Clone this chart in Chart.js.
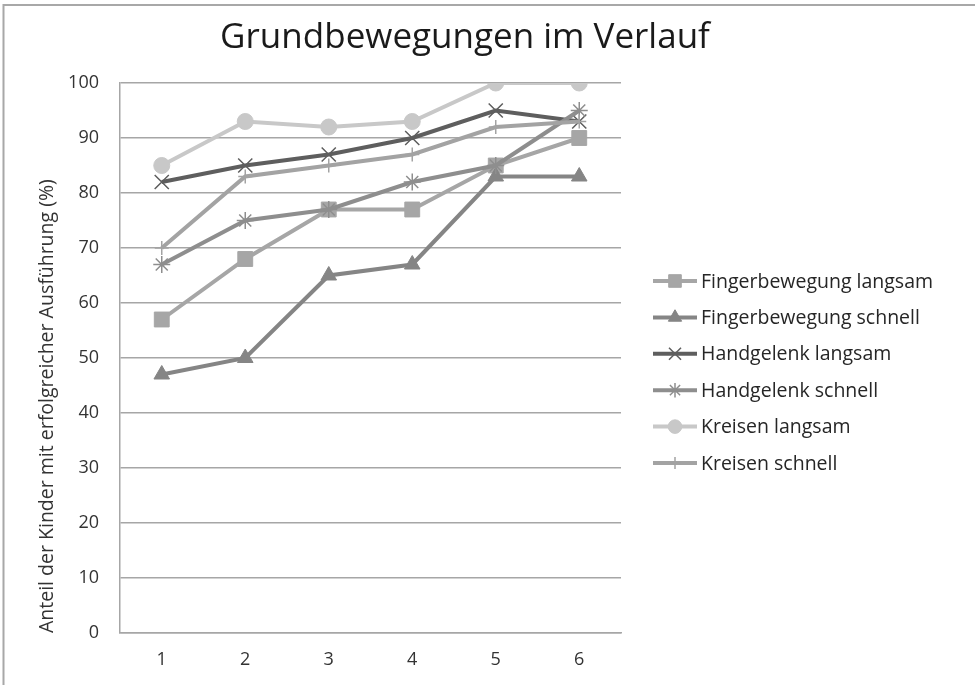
<!DOCTYPE html>
<html>
<head>
<meta charset="utf-8">
<script src="https://cdn.jsdelivr.net/npm/chart.js@4"></script>
<style>
  html, body { margin: 0; padding: 0; background: #fff; }
  #wrap { width: 975px; height: 685px; }
</style>
</head>
<body>
<div id="wrap"><canvas id="chart" width="975" height="685"></canvas></div>
<script>
// Messzeitpunkte
const labels = ["1", "2", "3", "4", "5", "6"];

// Anteil der Kinder (%) je Bewegung
const fingerLangsam = [57, 68, 77, 77, 85, 90];
const fingerSchnell = [47, 50, 65, 67, 83, 83];
const handLangsam = [82, 85, 87, 90, 95, 93];
const handSchnell = [67, 75, 77, 82, 85, 95];
const kreisLangsam = [85, 93, 92, 93, 100, 100];
const kreisSchnell = [70, 83, 85, 87, 92, 93];

const seriesNames = ["Fingerbewegung langsam", "Fingerbewegung schnell", "Handgelenk langsam",
  "Handgelenk schnell", "Kreisen langsam", "Kreisen schnell"];

const FONT = "'Open Sans', sans-serif";

function makeSet(i, data, color, style, radius, bw) {
  return {
    label: seriesNames[i],
    data: data,
    borderColor: color,
    backgroundColor: color,
    borderWidth: 4,
    pointStyle: style,
    pointRadius: radius,
    pointHoverRadius: radius,
    pointBorderWidth: bw,
    pointBorderColor: color,
    pointBackgroundColor: color,
    tension: 0,
    order: 6 - i
  };
}

const datasets = [
  makeSet(0, fingerLangsam, '#a6a6a6', 'rect', 10.5, 1),
  makeSet(1, fingerSchnell, '#858585', 'triangle', 9, 1),
  makeSet(2, handLangsam, '#5e5e5e', 'crossRot', 10, 1.5),
  makeSet(3, handSchnell, '#8e8e8e', 'star', 8.5, 1.5),
  makeSet(4, kreisLangsam, '#c8c8c8', 'circle', 8, 1),
  makeSet(5, kreisSchnell, '#a3a3a3', 'cross', 7, 1.5)
];

// Rahmen oben und links
const framePlugin = {
  id: 'frame',
  beforeDraw(chart) {
    const ctx = chart.ctx;
    ctx.save();
    ctx.fillStyle = '#fff';
    ctx.fillRect(0, 0, chart.width, chart.height);
    ctx.strokeStyle = '#a8a8a8';
    ctx.lineWidth = 2;
    ctx.beginPath();
    ctx.moveTo(3.5, chart.height);
    ctx.lineTo(3.5, 5);
    ctx.lineTo(chart.width, 5);
    ctx.stroke();
    ctx.restore();
  }
};

// Legende rechts, Linie mit Marker
const legendPlugin = {
  id: 'sideLegend',
  afterDraw(chart) {
    const ctx = chart.ctx;
    ctx.save();
    chart.data.datasets.forEach((ds, i) => {
      const y = 281 + i * 36.4;
      ctx.strokeStyle = ds.borderColor;
      ctx.lineWidth = 4;
      ctx.beginPath();
      ctx.moveTo(653, y);
      ctx.lineTo(697, y);
      ctx.stroke();
      ctx.fillStyle = ds.backgroundColor;
      ctx.strokeStyle = ds.borderColor;
      ctx.lineWidth = ds.pointBorderWidth;
      Chart.helpers.drawPoint(ctx, { pointStyle: ds.pointStyle, radius: ds.pointRadius * 0.85, rotation: 0, borderWidth: ds.pointBorderWidth }, 675, y);
      ctx.fillStyle = '#262626';
      ctx.font = '19.5px ' + FONT;
      ctx.textBaseline = 'middle';
      ctx.textAlign = 'left';
      ctx.fillText(ds.label, 701, y + 1);
    });
    ctx.restore();
  }
};

new Chart(document.getElementById('chart').getContext('2d'), {
  type: 'line',
  data: { labels: labels, datasets: datasets },
  options: {
    responsive: false,
    animation: false,
    layout: { padding: { left: 0, right: 45, top: 0, bottom: 0 } },
    plugins: {
      legend: { display: false },
      tooltip: { enabled: false },
      title: {
        display: true,
        text: 'Grundbewegungen im Verlauf',
        color: '#1a1a1a',
        font: { family: FONT, size: 35, weight: 'normal' },
        padding: { top: 17, bottom: 24 }
      }
    },
    scales: {
      x: {
        offset: true,
        grid: { display: false, drawTicks: false },
        border: { display: true, color: '#a6a6a6', width: 1.5 },
        ticks: { color: '#333', padding: 16, font: { family: FONT, size: 18 } },
        afterFit(scale) { scale.height = 52; }
      },
      y: {
        min: 0,
        max: 100,
        ticks: { stepSize: 10, color: '#333', padding: 21, font: { family: FONT, size: 18 } },
        grid: { color: '#a6a6a6', lineWidth: 1.5, drawTicks: false },
        border: { display: true, color: '#a6a6a6', width: 1.5 },
        title: {
          display: true,
          align: 'start',
          text: 'Anteil der Kinder mit erfolgreicher Ausführung (%)',
          color: '#333',
          font: { family: FONT, size: 19.5 },
          padding: { top: 36, bottom: 0 }
        },
        afterFit(scale) { scale.width = 120; }
      },
      // freier Platz rechts für die Legende
      legendSpace: {
        axis: 'y',
        type: 'linear',
        position: 'right',
        min: 0,
        max: 100,
        grid: { display: false, drawTicks: false },
        border: { display: false },
        ticks: { display: false },
        afterFit(scale) { scale.width = 309; }
      }
    }
  },
  plugins: [framePlugin, legendPlugin]
});
</script>
</body>
</html>
